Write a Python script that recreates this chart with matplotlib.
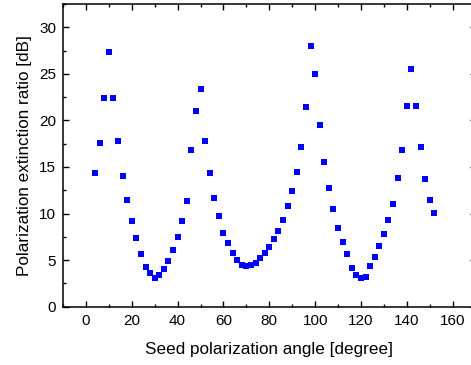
import matplotlib
matplotlib.use("Agg")
import matplotlib.pyplot as plt
from matplotlib.ticker import MultipleLocator

# seed polarization angle (degree), step 2 from 4 to 152
angle = list(range(4, 154, 2))
# extinction ratio (dB)
ratio = [14.4, 17.6, 22.4, 27.4, 22.4, 17.8, 14.0,
         11.5, 9.2, 7.4, 5.7, 4.3, 3.6, 3.1, 3.4, 4.0, 4.9, 6.1, 7.5, 9.2, 11.3,
         16.8, 21.0, 23.4, 17.8, 14.4,
         11.7, 9.7, 7.9, 6.8, 5.8, 5.0,
         4.5, 4.4, 4.5, 4.7, 5.2, 5.8, 6.4, 7.3, 8.1, 9.3, 10.8, 12.4, 14.5,
         17.1, 21.4, 28.0, 25.0, 19.5, 15.5,
         12.7, 10.5, 8.4, 7.0, 5.7, 4.2, 3.4, 3.1, 3.2, 4.4, 5.3, 6.5, 7.8, 9.3, 11.0,
         13.8, 16.8, 21.5, 25.5, 21.5, 17.2, 13.7, 11.5, 10.1]

plt.rcParams['font.family'] = ['Liberation Sans', 'DejaVu Sans']

fig = plt.figure(figsize=(4.71, 3.65), dpi=100)
ax = fig.add_axes([63 / 471, 58.3 / 365, (475.6 - 63) / 471, (306.7 - 4) / 365])

ax.plot(angle, ratio, 's', color='#0000ff', markersize=4.8, markeredgewidth=0)

ax.set_xlim(-10, 170)
ax.set_ylim(0, 32.5)
ax.xaxis.set_major_locator(MultipleLocator(20))
ax.xaxis.set_minor_locator(MultipleLocator(10))
ax.yaxis.set_major_locator(MultipleLocator(5))
ax.yaxis.set_minor_locator(MultipleLocator(2.5))
ax.tick_params(which='both', direction='in', top=True, right=True, labelsize=11, width=1)
ax.tick_params(which='major', length=4.5)
ax.tick_params(which='minor', length=2.5)
ax.tick_params(axis='x', pad=5.5)
ax.tick_params(axis='y', pad=5)
for s in ax.spines.values():
    s.set_linewidth(1.1)

ax.set_xlabel('Seed polarization angle [degree]', fontsize=12.3, labelpad=10)
ax.set_ylabel('Polarization extinction ratio [dB]', fontsize=12.3, labelpad=5)

fig.savefig('out.png', dpi=100)
